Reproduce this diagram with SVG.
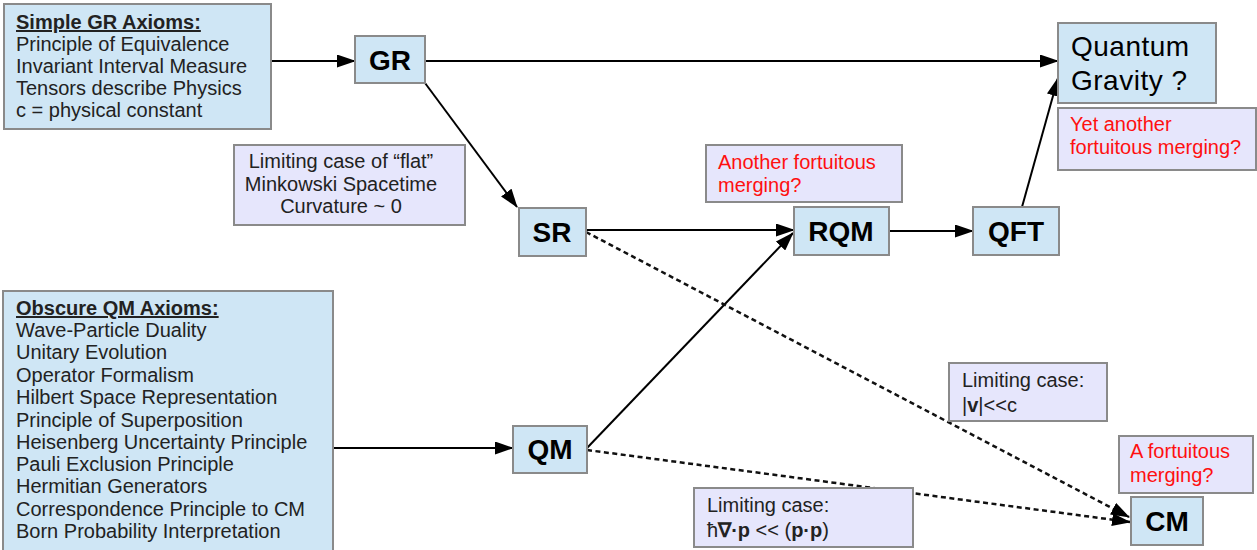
<svg xmlns="http://www.w3.org/2000/svg" width="1257" height="550" viewBox="0 0 1257 550">
<style>
.node{fill:#cfe6f5;stroke:#8a8a8a;stroke-width:2}
.note{fill:#e6e6fc;stroke:#8a8a8a;stroke-width:2}
.t{font-family:"Liberation Sans",Arial,sans-serif;font-size:20px;fill:#222}
.red{font-family:"Liberation Sans",Arial,sans-serif;font-size:20px;fill:#ff1010}
.lbl{font-family:"Liberation Sans",Arial,sans-serif;font-size:28px;font-weight:bold;fill:#000;text-anchor:middle}
.qg{font-family:"Liberation Sans",Arial,sans-serif;font-size:28px;fill:#000;letter-spacing:0.5px}
.title{font-weight:bold;text-decoration:underline}
.b{font-weight:bold}
.edge{stroke:#000;stroke-width:2;fill:none}
.dash{stroke:#111;stroke-width:2.5;fill:none;stroke-dasharray:5,3.5}
</style>
<defs>
<marker id="ah" markerUnits="userSpaceOnUse" markerWidth="19" markerHeight="13" refX="18" refY="6.5" orient="auto">
<path d="M0,0 L19,6.5 L0,13 z" fill="#000"/>
</marker>
</defs>
<g id="connectors">
<line class="edge" x1="271" y1="61" x2="355" y2="61" marker-end="url(#ah)"/>
<line class="edge" x1="425" y1="61" x2="1058" y2="61" marker-end="url(#ah)"/>
<line class="edge" x1="425" y1="83" x2="517" y2="207" marker-end="url(#ah)"/>
<line class="edge" x1="586" y1="230" x2="794" y2="230" marker-end="url(#ah)"/>
<line class="edge" x1="587" y1="448" x2="793" y2="233" marker-end="url(#ah)"/>
<line class="edge" x1="889" y1="231" x2="973" y2="231" marker-end="url(#ah)"/>
<line class="edge" x1="1022" y1="207" x2="1058" y2="78" marker-end="url(#ah)"/>
<line class="edge" x1="333" y1="448" x2="513" y2="448" marker-end="url(#ah)"/>
<line class="dash" x1="586" y1="232" x2="1129" y2="517" marker-end="url(#ah)"/>
<line class="dash" x1="587" y1="450" x2="1130" y2="522" marker-end="url(#ah)"/>
</g>
<g id="gr-axioms">
<rect class="node" x="4" y="4" width="267" height="125"/>
<text class="t" x="16" y="29"><tspan class="title">Simple GR Axioms:</tspan></text>
<text class="t" x="16" y="51">Principle of Equivalence</text>
<text class="t" x="16" y="73">Invariant Interval Measure</text>
<text class="t" x="16" y="95">Tensors describe Physics</text>
<text class="t" x="16" y="117">c = physical constant</text>
</g>
<g id="gr">
<rect class="node" x="355" y="36" width="70" height="47"/>
<text class="lbl" x="390" y="70">GR</text>
</g>
<g id="quantum-gravity">
<rect class="node" x="1058" y="23" width="158" height="80"/>
<text class="qg" x="1071" y="56">Quantum</text>
<text class="qg" x="1071" y="90">Gravity ?</text>
</g>
<g id="note-yet-another">
<rect class="note" x="1058" y="108" width="198" height="62"/>
<text class="red" x="1070" y="131">Yet another</text>
<text class="red" x="1070" y="154">fortuitous merging?</text>
</g>
<g id="note-flat">
<rect class="note" x="234" y="145" width="231" height="80"/>
<text class="t" x="341" y="168" text-anchor="middle">Limiting case of “flat”</text>
<text class="t" x="341" y="191" text-anchor="middle">Minkowski Spacetime</text>
<text class="t" x="341" y="213" text-anchor="middle">Curvature ~ 0</text>
</g>
<g id="sr">
<rect class="node" x="519" y="208" width="67" height="48"/>
<text class="lbl" x="552" y="242">SR</text>
</g>
<g id="note-another">
<rect class="note" x="706" y="145" width="196" height="57"/>
<text class="red" x="718" y="169">Another fortuitous</text>
<text class="red" x="718" y="192">merging?</text>
</g>
<g id="rqm">
<rect class="node" x="794" y="207" width="95" height="48"/>
<text class="lbl" x="841" y="241">RQM</text>
</g>
<g id="qft">
<rect class="node" x="973" y="207" width="86" height="48"/>
<text class="lbl" x="1016" y="241">QFT</text>
</g>
<g id="qm-axioms">
<rect class="node" x="3" y="291" width="330" height="270"/>
<text class="t" x="16" y="315"><tspan class="title">Obscure QM Axioms:</tspan></text>
<text class="t" x="16" y="337">Wave-Particle Duality</text>
<text class="t" x="16" y="359">Unitary Evolution</text>
<text class="t" x="16" y="382">Operator Formalism</text>
<text class="t" x="16" y="404">Hilbert Space Representation</text>
<text class="t" x="16" y="427">Principle of Superposition</text>
<text class="t" x="16" y="449">Heisenberg Uncertainty Principle</text>
<text class="t" x="16" y="471">Pauli Exclusion Principle</text>
<text class="t" x="16" y="493">Hermitian Generators</text>
<text class="t" x="16" y="516">Correspondence Principle to CM</text>
<text class="t" x="16" y="538">Born Probability Interpretation</text>
</g>
<g id="qm">
<rect class="node" x="513" y="426" width="74" height="47"/>
<text class="lbl" x="550" y="459">QM</text>
</g>
<g id="note-v">
<rect class="note" x="949" y="363" width="158" height="58"/>
<text class="t" x="962" y="387">Limiting case:</text>
<text class="t" x="962" y="412">|<tspan class="b">v</tspan>|&lt;&lt;c</text>
</g>
<g id="note-hbar">
<rect class="note" x="694" y="488" width="219" height="59"/>
<text class="t" x="707" y="512">Limiting case:</text>
<text class="t" x="707" y="537">ħ<tspan class="b">∇·p</tspan> &lt;&lt; (<tspan class="b">p·p</tspan>)</text>
</g>
<g id="note-fortuitous">
<rect class="note" x="1119" y="436" width="134" height="57"/>
<text class="red" x="1130" y="458">A fortuitous</text>
<text class="red" x="1130" y="482">merging?</text>
</g>
<g id="cm">
<rect class="node" x="1131" y="497" width="72" height="48"/>
<text class="lbl" x="1167" y="531">CM</text>
</g>
</svg>
